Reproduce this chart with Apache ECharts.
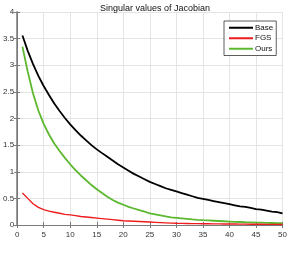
<!DOCTYPE html>
<html><head><meta charset="utf-8">
<script src="https://cdn.jsdelivr.net/npm/echarts@6/dist/echarts.min.js"></script>
<style>html,body{margin:0;padding:0;background:#fff}#c{width:290px;height:272px}</style>
</head><body><div id="c"></div>
<script>
var xs = [];
for (var i = 1; i <= 50; i++) xs.push(i);
var base = [3.56,3.27,3.02,2.8,2.61,2.44,2.28,2.14,2.01,1.89,1.78,1.68,1.59,1.5,1.42,1.35,1.28,1.21,1.14,1.08,1.02,0.96,0.91,0.86,0.81,0.77,0.73,0.69,0.66,0.63,0.6,0.57,0.54,0.51,0.49,0.47,0.45,0.43,0.41,0.39,0.37,0.35,0.34,0.32,0.3,0.29,0.27,0.25,0.24,0.22];
var fgs = [0.6,0.5,0.4,0.33,0.29,0.26,0.24,0.22,0.2,0.19,0.175,0.16,0.15,0.14,0.13,0.12,0.11,0.1,0.09,0.08,0.075,0.07,0.065,0.06,0.055,0.05,0.045,0.04,0.035,0.032,0.03,0.028,0.026,0.025,0.024,0.023,0.022,0.021,0.02,0.019,0.018,0.017,0.016,0.015,0.014,0.013,0.012,0.012,0.011,0.01];
var ours = [3.35,2.88,2.47,2.15,1.9,1.7,1.53,1.39,1.26,1.14,1.03,0.93,0.84,0.75,0.67,0.6,0.53,0.47,0.42,0.38,0.34,0.31,0.28,0.25,0.22,0.2,0.18,0.16,0.145,0.135,0.125,0.115,0.105,0.097,0.09,0.085,0.08,0.075,0.07,0.065,0.06,0.056,0.052,0.049,0.046,0.043,0.04,0.038,0.035,0.033];
var seriesNames = ['Base','FGS','Ours'];
var xTicks = [0,5,10,15,20,25,30,35,40,45,50];
var yTicks = [0,0.5,1,1.5,2,2.5,3,3.5,4];

function pairs(arr){ return xs.map(function(x,i){ return [x, arr[i]]; }); }
var font = 'Liberation Sans';
var axisCol = '#7a7a7a';
var chart = echarts.init(document.getElementById('c'));
chart.setOption({
  animation: false,
  backgroundColor: '#fff',
  title: { text: 'Singular values of Jacobian', left: 150, top: -1, textAlign: 'center',
    textStyle: { fontFamily: font, fontSize: 9, fontWeight: 'normal', color: '#111' } },
  grid: { left: 14, right: 4, top: 12, bottom: 47 },
  legend: {
    data: seriesNames, orient: 'vertical', left: 224, top: 21,
    padding: [2, 3, 2, 5], itemGap: 1, itemWidth: 24, itemHeight: 2, icon: 'rect',
    backgroundColor: '#fff', borderColor: '#333', borderWidth: 0.8, borderRadius: 0,
    textStyle: { fontFamily: font, fontSize: 8, color: '#111', lineHeight: 9.5, padding: [0,0,0,-3] }
  },
  xAxis: [{
    type: 'value', min: 0, max: 50, interval: 5,
    axisLine: { show: true, lineStyle: { color: axisCol, width: 1 } },
    axisTick: { show: true, inside: true, length: 3, lineStyle: { color: axisCol } },
    axisLabel: { fontFamily: font, fontSize: 8, color: '#333', margin: 6,
      formatter: function(v){ return xTicks.indexOf(v) >= 0 ? String(v) : ''; } },
    splitLine: { show: true, lineStyle: { color: '#e4e4e4', width: 1 } }
  }, {
    type: 'value', position: 'top', min: 0, max: 50, interval: 5,
    axisLine: { show: true, lineStyle: { color: axisCol, width: 1 } },
    axisTick: { show: true, inside: true, length: 3, lineStyle: { color: axisCol } },
    axisLabel: { show: false }, splitLine: { show: false }
  }],
  yAxis: [{
    type: 'value', min: 0, max: 4, interval: 0.5,
    axisLine: { show: true, lineStyle: { color: axisCol, width: 1 } },
    axisTick: { show: true, inside: true, length: 3, lineStyle: { color: axisCol } },
    axisLabel: { fontFamily: font, fontSize: 8, color: '#333', margin: 3,
      formatter: function(v){ return yTicks.indexOf(v) >= 0 ? String(v) : ''; } },
    splitLine: { show: true, lineStyle: { color: '#e4e4e4', width: 1 } }
  }, {
    type: 'value', position: 'right', min: 0, max: 4, interval: 0.5,
    axisLine: { show: true, lineStyle: { color: axisCol, width: 1.5 } },
    axisTick: { show: true, inside: true, length: 3, lineStyle: { color: axisCol } },
    axisLabel: { show: false }, splitLine: { show: false }
  }],
  series: [
    { name: 'Base', type: 'line', symbol: 'none', data: pairs(base), smooth: false,
      lineStyle: { color: '#000', width: 1.8 }, itemStyle: { color: '#000' }, z: 3 },
    { name: 'FGS', type: 'line', symbol: 'none', data: pairs(fgs),
      lineStyle: { color: '#ee1c1c', width: 1.4 }, itemStyle: { color: '#ee1c1c' }, z: 4 },
    { name: 'Ours', type: 'line', symbol: 'none', data: pairs(ours),
      lineStyle: { color: '#5cb82e', width: 1.8 }, itemStyle: { color: '#5cb82e' }, z: 3 }
  ]
});
</script></body></html>
